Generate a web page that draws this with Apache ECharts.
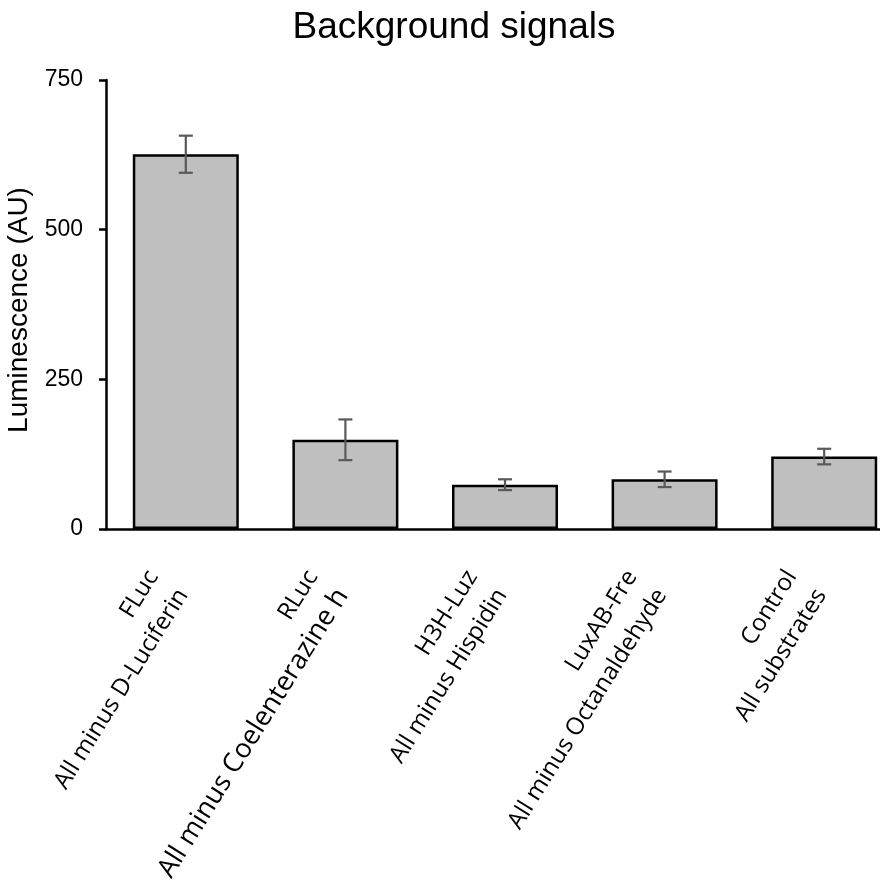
<!DOCTYPE html>
<html>
<head>
<meta charset="utf-8">
<script src="https://cdn.jsdelivr.net/npm/echarts@6/dist/echarts.min.js"></script>
<style>
  html, body { margin: 0; padding: 0; background: #fff; overflow: hidden; }
  #main { width: 904px; height: 884px; }
</style>
</head>
<body>
<div id="main"></div>
<script>
var categories = [
  'FLuc\nAll minus D-Luciferin',
  'RLuc\nAll minus Coelenterazine h',
  'H3H-Luz\nAll minus Hispidin',
  'LuxAB-Fre\nAll minus Octanaldehyde',
  'Control\nAll substrates'
];
var values = [626, 149, 74, 83, 121];
var errors = [31, 34, 9, 13, 13];
var yTicks = [0, 250, 500, 750];

var errorData = values.map(function (v, i) {
  return [i, v - errors[i], v + errors[i]];
});

var labelFont = { fontFamily: 'Open Sans', fontSize: 24, lineHeight: 35, color: '#000' };

// the plot runs a little past the right edge of the 880px window, as in the source figure
var myChart = echarts.init(document.getElementById('main'));
var option = {
  animation: false,
  title: {
    text: 'Background signals',
    left: 449,
    top: 4,
    textAlign: 'center',
    textStyle: {
      fontFamily: 'Liberation Sans',
      fontSize: 37,
      fontWeight: 'normal',
      color: '#000'
    }
  },
  grid: {
    left: 106,
    right: 0,
    top: 80,
    bottom: 355,
    containLabel: false,
    outerBoundsMode: 'none'
  },
  xAxis: {
    type: 'category',
    data: categories,
    axisLine: { lineStyle: { color: '#000', width: 2.5 } },
    axisTick: { show: false },
    axisLabel: {
      rotate: 58,
      interval: 0,
      margin: 24,
      padding: [0, 34, 0, 0],
      fontFamily: 'Open Sans',
      fontSize: 24,
      lineHeight: 35,
      color: '#000',
      formatter: function (value, index) {
        var parts = value.split('\n');
        // the second line under RLuc is set a little larger in the source
        return '{n|' + parts[0] + '}\n{' + (index === 1 ? 'big' : 'n') + '|' + parts[1] + '}';
      },
      rich: {
        n: labelFont,
        big: { fontFamily: 'Open Sans', fontSize: 27, lineHeight: 35, color: '#000' }
      }
    }
  },
  yAxis: {
    type: 'value',
    min: yTicks[0],
    max: yTicks[yTicks.length - 1],
    interval: 250,
    name: 'Luminescence (AU)',
    nameLocation: 'middle',
    nameGap: 67,
    nameTextStyle: {
      fontFamily: 'Liberation Sans',
      fontSize: 28,
      color: '#000',
      padding: [0, 11, 0, 0]
    },
    axisLine: { show: true, lineStyle: { color: '#000', width: 2.5 } },
    axisTick: { show: true, length: 7, lineStyle: { color: '#000', width: 2.5 } },
    splitLine: { show: false },
    axisLabel: {
      margin: 23,
      fontFamily: 'Liberation Sans',
      fontSize: 23,
      color: '#000'
    }
  },
  series: [
    {
      type: 'bar',
      data: values,
      barWidth: 106,
      itemStyle: {
        color: '#bfbfbf',
        borderColor: '#000',
        borderWidth: 2.5
      }
    },
    {
      type: 'custom',
      data: errorData,
      z: 10,
      renderItem: function (params, api) {
        var x = api.value(0);
        var lo = api.coord([x, api.value(1)]);
        var hi = api.coord([x, api.value(2)]);
        var hw = 7;
        var style = { stroke: '#595959', lineWidth: 2.2 };
        return {
          type: 'group',
          children: [
            { type: 'line', shape: { x1: lo[0], y1: lo[1], x2: hi[0], y2: hi[1] }, style: style },
            { type: 'line', shape: { x1: lo[0] - hw, y1: lo[1], x2: lo[0] + hw, y2: lo[1] }, style: style },
            { type: 'line', shape: { x1: hi[0] - hw, y1: hi[1], x2: hi[0] + hw, y2: hi[1] }, style: style }
          ]
        };
      }
    }
  ]
};
myChart.setOption(option);

window.onresize = function () {
  myChart.resize();
};
</script>
</body>
</html>
